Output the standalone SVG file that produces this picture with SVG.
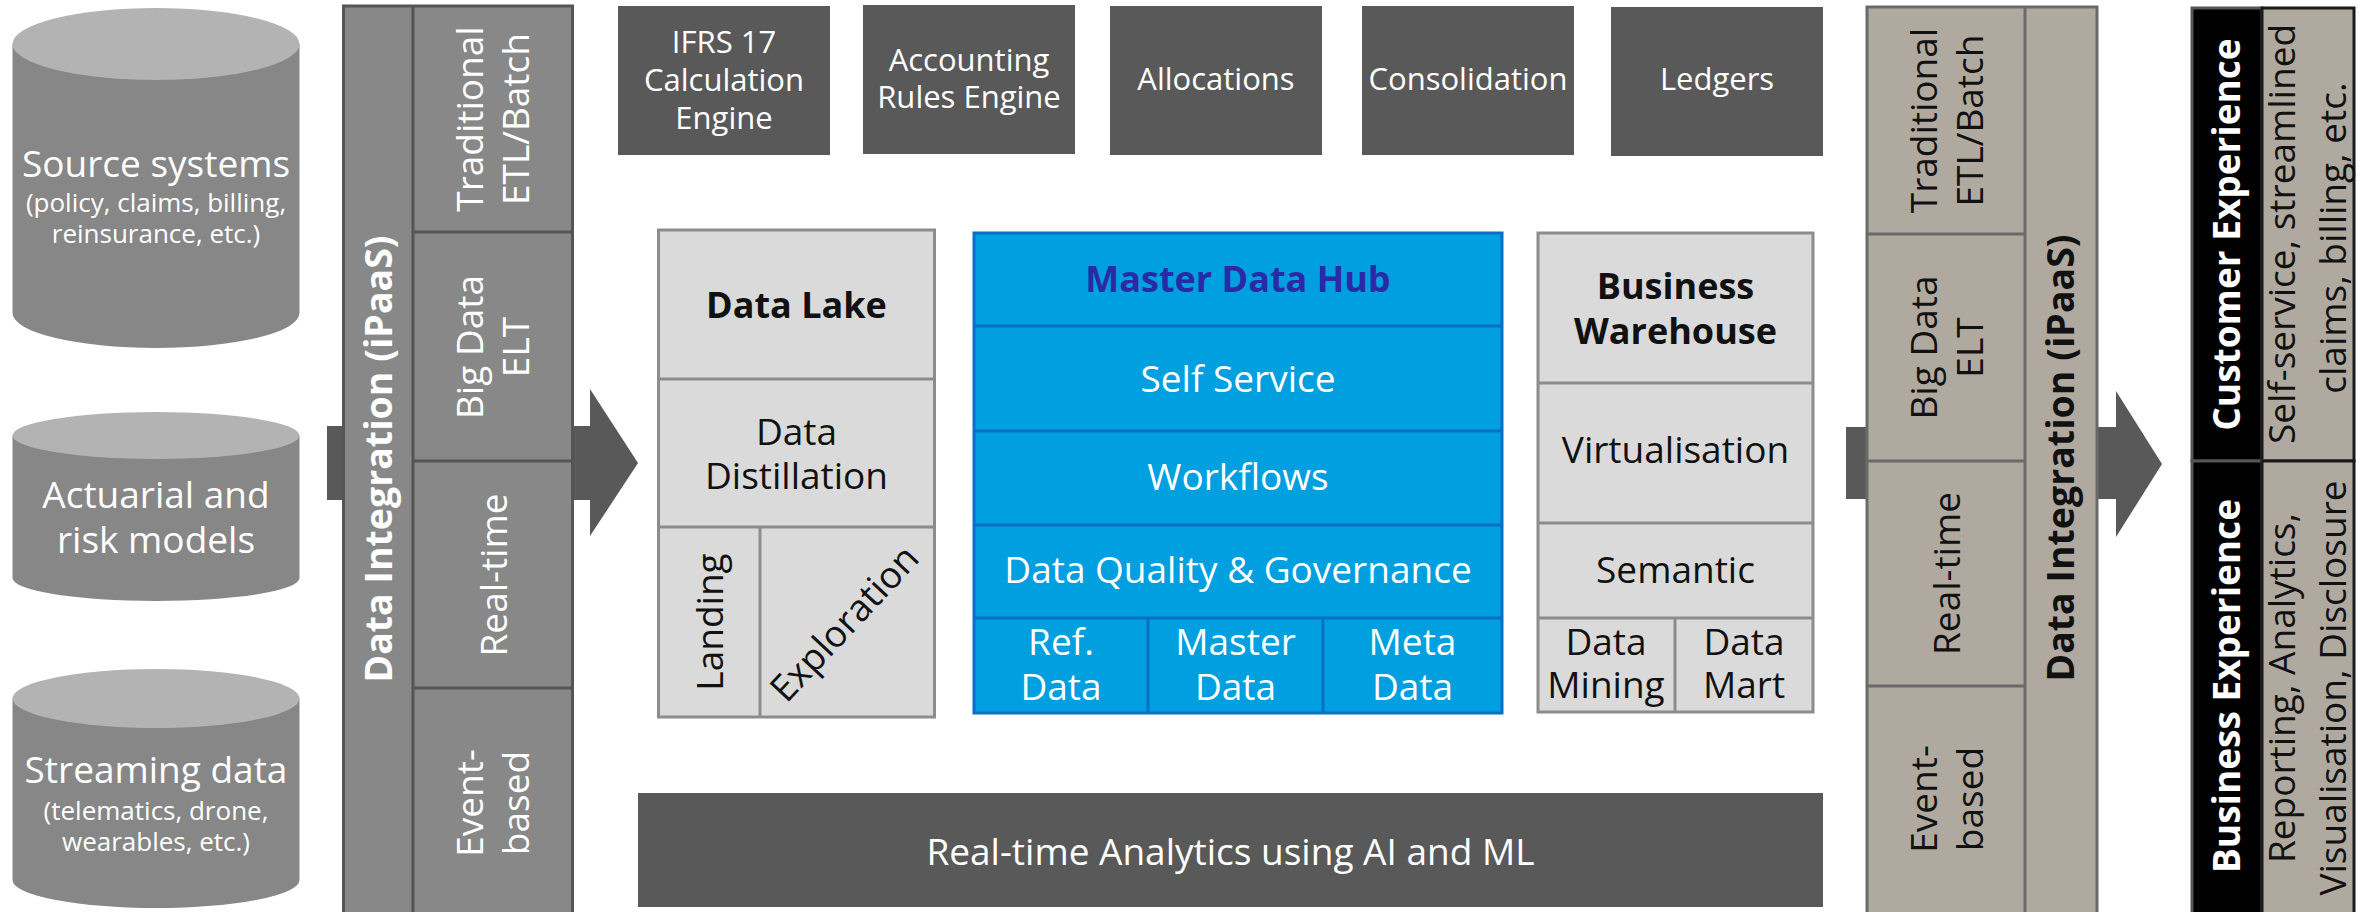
<svg xmlns="http://www.w3.org/2000/svg" width="2366" height="912" viewBox="0 0 2366 912">
<style>
text{font-family:"Open Sans","Liberation Sans",sans-serif;text-anchor:middle}
.t37{font-size:37px}
.t31{font-size:31px}
.t26{font-size:26px}
.b{font-weight:700;font-size:36px}
.bl{font-weight:700;font-size:37.5px}
.w{fill:#ffffff}
.k{fill:#111111}
.cylbody{fill:#878787}
.cyltop{fill:#b3b3b3}
.dark{fill:#595959}
.lgrid{fill:none;stroke:#555555;stroke-width:3}
.rgrid{fill:none;stroke:#6a6a6a;stroke-width:3}
.grey{fill:#dadada;stroke:#8c8c8c;stroke-width:3}
.gline{stroke:#8c8c8c;stroke-width:3}
.blue{fill:#009fe0;stroke:#0b6fc3;stroke-width:3}
.bline{stroke:#0b6fc3;stroke-width:3}
</style>
<rect width="2366" height="912" fill="#ffffff"/>

<g id="connectors">
<polygon class="dark" points="327,426 590,426 590,389 638,463 590,536 590,500 327,500"/>
<polygon class="dark" points="1846,427 2116,427 2116,391 2162,464 2116,537 2116,499 1846,499"/>
</g>

<g id="source-systems">
<path class="cylbody" d="M12.5,44 L12.5,313 A143.5,35 0 0 0 299.5,313 L299.5,44 Z"/>
<ellipse class="cyltop" cx="156" cy="44" rx="143.5" ry="36"/>
<text class="t37 w" x="156" y="177">Source systems</text>
<text class="t26 w" x="156" y="212">(policy, claims, billing,</text>
<text class="t26 w" x="156" y="243">reinsurance, etc.)</text>
</g>

<g id="actuarial-models">
<path class="cylbody" d="M12.5,435.5 L12.5,578 A143.5,23 0 0 0 299.5,578 L299.5,435.5 Z"/>
<ellipse class="cyltop" cx="156" cy="435.5" rx="143.5" ry="23.5"/>
<text class="t37 w" x="156" y="508">Actuarial and</text>
<text class="t37 w" x="156" y="553">risk models</text>
</g>

<g id="streaming-data">
<path class="cylbody" d="M12.5,698.5 L12.5,880 A143.5,28 0 0 0 299.5,880 L299.5,698.5 Z"/>
<ellipse class="cyltop" cx="156" cy="698.5" rx="143.5" ry="29.5"/>
<text class="t37 w" x="156" y="783">Streaming data</text>
<text class="t26 w" x="156" y="820">(telematics, drone,</text>
<text class="t26 w" x="156" y="851">wearables, etc.)</text>
</g>

<g id="integration-left">
<rect x="343.5" y="6" width="229" height="920" fill="#888888"/>
<rect class="lgrid" x="343.5" y="6" width="229" height="920"/>
<line class="lgrid" x1="413" y1="6" x2="413" y2="912"/>
<line class="lgrid" x1="413" y1="232" x2="572.5" y2="232"/>
<line class="lgrid" x1="413" y1="461" x2="572.5" y2="461"/>
<line class="lgrid" x1="413" y1="688" x2="572.5" y2="688"/>
<text class="bl w" transform="translate(392,459) rotate(-90)">Data Integration (iPaaS)</text>
<text class="t37 w" transform="translate(483,119) rotate(-90)">Traditional</text>
<text class="t37 w" transform="translate(529,119) rotate(-90)">ETL/Batch</text>
<text class="t37 w" transform="translate(483,347) rotate(-90)">Big Data</text>
<text class="t37 w" transform="translate(529,347) rotate(-90)">ELT</text>
<text class="t37 w" transform="translate(507,575) rotate(-90)">Real-time</text>
<text class="t37 w" transform="translate(483,803) rotate(-90)">Event-</text>
<text class="t37 w" transform="translate(529,803) rotate(-90)">based</text>
</g>

<g id="ifrs17-engine">
<rect class="dark" x="618" y="6" width="212" height="149"/>
<text class="t31 w" x="724" y="53">IFRS 17</text>
<text class="t31 w" x="724" y="91">Calculation</text>
<text class="t31 w" x="724" y="129">Engine</text>
</g>
<g id="accounting-rules-engine">
<rect class="dark" x="863" y="5" width="212" height="149"/>
<text class="t31 w" x="969" y="71">Accounting</text>
<text class="t31 w" x="969" y="108">Rules Engine</text>
</g>
<g id="allocations">
<rect class="dark" x="1110" y="6" width="212" height="149"/>
<text class="t31 w" x="1216" y="90">Allocations</text>
</g>
<g id="consolidation">
<rect class="dark" x="1362" y="6" width="212" height="149"/>
<text class="t31 w" x="1468" y="90">Consolidation</text>
</g>
<g id="ledgers">
<rect class="dark" x="1611" y="7" width="212" height="149"/>
<text class="t31 w" x="1717" y="90">Ledgers</text>
</g>

<g id="data-lake">
<rect class="grey" x="658.5" y="230" width="276" height="487"/>
<line class="gline" x1="658.5" y1="379" x2="934.5" y2="379"/>
<line class="gline" x1="658.5" y1="527" x2="934.5" y2="527"/>
<line class="gline" x1="760" y1="527" x2="760" y2="717"/>
<text class="b k" x="796.5" y="318">Data Lake</text>
<text class="t37 k" x="796.5" y="445">Data</text>
<text class="t37 k" x="796.5" y="489">Distillation</text>
<text class="t37 k" transform="translate(723,622) rotate(-90)">Landing</text>
<text class="t37 k" transform="translate(845,624) rotate(-47)" y="12">Exploration</text>
</g>

<g id="master-data-hub">
<rect class="blue" x="974" y="233" width="528" height="480"/>
<line class="bline" x1="974" y1="326" x2="1502" y2="326"/>
<line class="bline" x1="974" y1="431" x2="1502" y2="431"/>
<line class="bline" x1="974" y1="525" x2="1502" y2="525"/>
<line class="bline" x1="974" y1="618" x2="1502" y2="618"/>
<line class="bline" x1="1148" y1="618" x2="1148" y2="713"/>
<line class="bline" x1="1323" y1="618" x2="1323" y2="713"/>
<text class="b" fill="#2a2aa6" x="1238" y="292">Master Data Hub</text>
<text class="t37 w" x="1238" y="392">Self Service</text>
<text class="t37 w" x="1238" y="490">Workflows</text>
<text class="t37 w" x="1238" y="583">Data Quality &amp; Governance</text>
<text class="t37 w" x="1061" y="655">Ref.</text>
<text class="t37 w" x="1061" y="700">Data</text>
<text class="t37 w" x="1235.5" y="655">Master</text>
<text class="t37 w" x="1235.5" y="700">Data</text>
<text class="t37 w" x="1412.5" y="655">Meta</text>
<text class="t37 w" x="1412.5" y="700">Data</text>
</g>

<g id="business-warehouse">
<rect class="grey" x="1538" y="233" width="275" height="479"/>
<line class="gline" x1="1538" y1="383" x2="1813" y2="383"/>
<line class="gline" x1="1538" y1="523" x2="1813" y2="523"/>
<line class="gline" x1="1538" y1="618" x2="1813" y2="618"/>
<line class="gline" x1="1675" y1="618" x2="1675" y2="712"/>
<text class="b k" x="1675.5" y="299">Business</text>
<text class="b k" x="1675.5" y="344">Warehouse</text>
<text class="t37 k" x="1675.5" y="463">Virtualisation</text>
<text class="t37 k" x="1675.5" y="583">Semantic</text>
<text class="t37 k" x="1606" y="655">Data</text>
<text class="t37 k" x="1606" y="698">Mining</text>
<text class="t37 k" x="1744" y="655">Data</text>
<text class="t37 k" x="1744" y="698">Mart</text>
</g>

<g id="realtime-analytics">
<rect class="dark" x="638" y="793" width="1185" height="114"/>
<text class="t37 w" x="1230.5" y="865">Real-time Analytics using AI and ML</text>
</g>

<g id="integration-right">
<rect x="1867" y="7" width="230" height="920" fill="#b0a99f"/>
<rect class="rgrid" x="1867" y="7" width="230" height="920"/>
<line class="rgrid" x1="2025" y1="7" x2="2025" y2="912"/>
<line class="rgrid" x1="1867" y1="234" x2="2025" y2="234"/>
<line class="rgrid" x1="1867" y1="461" x2="2025" y2="461"/>
<line class="rgrid" x1="1867" y1="686" x2="2025" y2="686"/>
<text class="t37 k" transform="translate(1937,120.5) rotate(-90)">Traditional</text>
<text class="t37 k" transform="translate(1983,120.5) rotate(-90)">ETL/Batch</text>
<text class="t37 k" transform="translate(1937,347.5) rotate(-90)">Big Data</text>
<text class="t37 k" transform="translate(1983,347.5) rotate(-90)">ELT</text>
<text class="t37 k" transform="translate(1960,573.5) rotate(-90)">Real-time</text>
<text class="t37 k" transform="translate(1937,799) rotate(-90)">Event-</text>
<text class="t37 k" transform="translate(1983,799) rotate(-90)">based</text>
<text class="bl k" transform="translate(2074,458) rotate(-90)">Data Integration (iPaaS)</text>
</g>

<g id="customer-experience">
<rect x="2192" y="8" width="70" height="453" fill="#000000" stroke="#555555" stroke-width="3"/>
<rect x="2262" y="8" width="92" height="453" fill="#b0a99f" stroke="#1a1a1a" stroke-width="3"/>
<text class="b w" style="font-size:37px" transform="translate(2240,234.5) rotate(-90)">Customer Experience</text>
<text class="t37 k" transform="translate(2295,234) rotate(-90)">Self-service, streamlined</text>
<text class="t37 k" transform="translate(2346,238) rotate(-90)">claims, billing, etc.</text>
</g>

<g id="business-experience">
<rect x="2192" y="461" width="70" height="465" fill="#000000" stroke="#555555" stroke-width="3"/>
<rect x="2262" y="461" width="92" height="465" fill="#b0a99f" stroke="#1a1a1a" stroke-width="3"/>
<text class="b w" style="font-size:37px" transform="translate(2240,686) rotate(-90)">Business Experience</text>
<text class="t37 k" transform="translate(2295,688) rotate(-90)">Reporting, Analytics,</text>
<text class="t37 k" transform="translate(2346,688) rotate(-90)">Visualisation, Disclosure</text>
</g>
</svg>
